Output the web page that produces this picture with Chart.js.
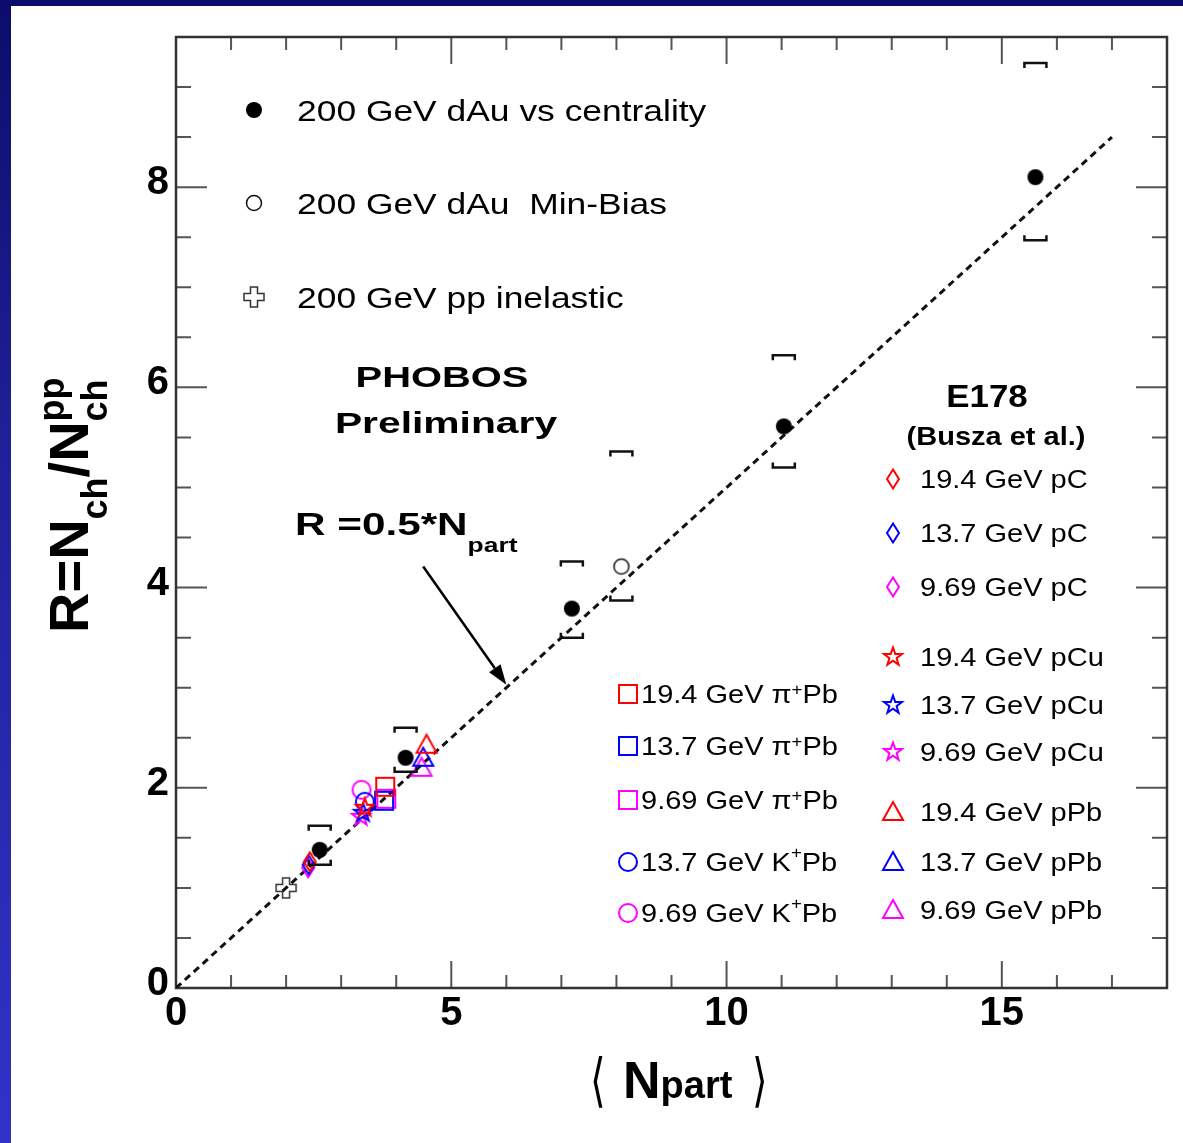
<!DOCTYPE html>
<html>
<head>
<meta charset="utf-8">
<script src="https://cdn.jsdelivr.net/npm/chart.js@4.4.0/dist/chart.umd.min.js"></script>
<style>
  html, body { margin: 0; padding: 0; }
  body {
    width: 1183px; height: 1143px; overflow: hidden; position: relative;
    background: linear-gradient(180deg, #0c0c6c 0%, #20209a 40%, #3232c8 100%);
  }
  #sheet { position: absolute; left: 11px; top: 6px; right: 0; bottom: 0; background: #fff; }
  #chart { position: absolute; left: 0; top: 0; }
</style>
</head>
<body>
<div id="sheet"></div>
<canvas id="chart" width="1183" height="1143"></canvas>
<script>
// -------------------------------
// Data
// -------------------------------
// PHOBOS 200 GeV d+Au vs centrality, with systematic band edges
const dAuNpart = [2.61, 4.17, 7.19, 11.04, 15.61];
const dAuR = [1.38, 2.30, 3.79, 5.61, 8.10];
const dAuSysLow = [1.23, 2.16, 3.50, 5.20, 7.47];
const dAuSysHigh = [1.62, 2.60, 4.26, 6.32, 9.24];

// PHOBOS 200 GeV d+Au min-bias
const mbNpart = [8.09];
const mbR = [4.21];
const mbSysLow = [3.87];
const mbSysHigh = [5.36];

// 200 GeV pp inelastic
const ppNpart = [2.0];
const ppR = [1.0];

// E178 (Busza et al.), one value per beam energy: 19.4, 13.7, 9.69 GeV
const energies = ["19.4", "13.7", "9.69"];
const pCNpart = [2.43, 2.41, 2.40];
const pCR = [1.26, 1.23, 1.20];
const pCuNpart = [3.43, 3.40, 3.36];
const pCuR = [1.80, 1.75, 1.71];
const pPbNpart = [4.55, 4.49, 4.46];
const pPbR = [2.43, 2.30, 2.20];
const piPbNpart = [3.80, 3.78, 3.82];
const piPbR = [2.01, 1.87, 1.89];
// K+Pb only at 13.7 and 9.69 GeV
const kPbEnergies = ["13.7", "9.69"];
const kPbNpart = [3.43, 3.37];
const kPbR = [1.86, 1.98];

// R = 0.5 * Npart reference line
const refLineX = [0, 17];
const refLineY = [0, 8.5];

const xMajorTicks = [0, 5, 10, 15];
const yMajorTicks = [0, 2, 4, 6, 8];

const phobosLabels = [
  "200 GeV dAu vs centrality",
  "200 GeV dAu  Min-Bias",
  "200 GeV pp inelastic",
];

const energyColors = ["#ff0000", "#0000ff", "#ff00ff"];
const FONT = "'Liberation Sans', Arial, sans-serif";

// -------------------------------
// Marker images
// -------------------------------
function marker(shape, color) {
  const c = document.createElement("canvas");
  c.width = 28;
  c.height = 28;
  const g = c.getContext("2d");
  g.translate(14, 14);
  g.strokeStyle = color;
  g.fillStyle = color;
  g.lineWidth = 2;
  g.beginPath();
  if (shape === "dot") {
    g.arc(0, 0, 8, 0, 2 * Math.PI);
    g.fill();
    return c;
  }
  if (shape === "ring") {
    g.lineWidth = 1.5;
    g.arc(0, 0, 7.5, 0, 2 * Math.PI);
  } else if (shape === "circle") {
    g.arc(0, 0, 9, 0, 2 * Math.PI);
  } else if (shape === "square") {
    g.rect(-9, -9, 18, 18);
  } else if (shape === "diamond") {
    g.moveTo(0, -9.5);
    g.lineTo(6, 0);
    g.lineTo(0, 9.5);
    g.lineTo(-6, 0);
    g.closePath();
  } else if (shape === "triangle") {
    g.moveTo(0, -10);
    g.lineTo(10, 8);
    g.lineTo(-10, 8);
    g.closePath();
  } else if (shape === "star") {
    for (let k = 0; k < 10; k++) {
      const r = k % 2 ? 3.8 : 9.5;
      const a = -Math.PI / 2 + (k * Math.PI) / 5;
      if (k === 0) g.moveTo(r * Math.cos(a), r * Math.sin(a));
      else g.lineTo(r * Math.cos(a), r * Math.sin(a));
    }
    g.closePath();
  } else if (shape === "plus") {
    const a = 3.5, b = 10;
    g.lineWidth = 1.5;
    const pts = [[-a,-b],[a,-b],[a,-a],[b,-a],[b,a],[a,a],[a,b],[-a,b],[-a,a],[-b,a],[-b,-a],[-a,-a]];
    pts.forEach((p, i) => (i ? g.lineTo(p[0], p[1]) : g.moveTo(p[0], p[1])));
    g.closePath();
  }
  g.stroke();
  return c;
}

const dotImg = marker("dot", "#000");
const ringImg = marker("ring", "#111");
const plusImg = marker("plus", "#333");
const diamondImgs = energyColors.map((c) => marker("diamond", c));
const starImgs = energyColors.map((c) => marker("star", c));
const triangleImgs = energyColors.map((c) => marker("triangle", c));
const squareImgs = energyColors.map((c) => marker("square", c));
const kCircleImgs = [marker("circle", energyColors[1]), marker("circle", energyColors[2])];

// -------------------------------
// Datasets
// -------------------------------
const datasets = [];
function addPoints(label, xs, ys, img) {
  datasets.push({
    label,
    data: xs.map((x, i) => ({ x, y: ys[i] })),
    pointStyle: img,
    pointRadius: 9,
    pointHoverRadius: 9,
    showLine: false,
  });
}

addPoints(phobosLabels[0], dAuNpart, dAuR, dotImg);
addPoints(phobosLabels[1], mbNpart, mbR, ringImg);
addPoints(phobosLabels[2], ppNpart, ppR, plusImg);
energies.forEach((e, i) => {
  addPoints(`${e} GeV pPb`, [pPbNpart[i]], [pPbR[i]], triangleImgs[i]);
  addPoints(`${e} GeV pi+Pb`, [piPbNpart[i]], [piPbR[i]], squareImgs[i]);
  addPoints(`${e} GeV pCu`, [pCuNpart[i]], [pCuR[i]], starImgs[i]);
  addPoints(`${e} GeV pC`, [pCNpart[i]], [pCR[i]], diamondImgs[i]);
});
kPbEnergies.forEach((e, i) => {
  addPoints(`${e} GeV K+Pb`, [kPbNpart[i]], [kPbR[i]], kCircleImgs[i]);
});
datasets.push({
  type: "line",
  label: "R = 0.5 Npart",
  data: refLineX.map((x, i) => ({ x, y: refLineY[i] })),
  borderColor: "#111",
  borderWidth: 3,
  borderDash: [7, 5],
  pointRadius: 0,
  fill: false,
});

// -------------------------------
// Text helpers
// -------------------------------
// runs: [{ t, font, dy }], drawn on one baseline, stretched by sx (and sy)
function drawRuns(ctx, runs, x, y, sx, align, sy = 1) {
  ctx.save();
  let w = 0;
  runs.forEach((r) => {
    ctx.font = r.font;
    w += ctx.measureText(r.t).width;
  });
  ctx.translate(x, y);
  ctx.scale(sx, sy);
  let cx = align === "center" ? -w / 2 : 0;
  ctx.textBaseline = "alphabetic";
  ctx.textAlign = "left";
  runs.forEach((r) => {
    ctx.font = r.font;
    ctx.fillText(r.t, cx, r.dy || 0);
    cx += ctx.measureText(r.t).width;
  });
  ctx.restore();
}

const reg = (s) => `${s}px ${FONT}`;
const bold = (s) => `bold ${s}px ${FONT}`;

// -------------------------------
// Frame with inward ticks on all sides
// -------------------------------
const framePlugin = {
  id: "frame",
  beforeDatasetsDraw(chart) {
    const { ctx, chartArea: a, scales } = chart;
    ctx.save();
    ctx.strokeStyle = "#555";
    ctx.lineWidth = 2;
    ctx.beginPath();
    scales.x.ticks.forEach((t) => {
      const px = scales.x.getPixelForValue(t.value);
      const len = t.value % 5 === 0 ? 27 : 13;
      ctx.moveTo(px, a.bottom);
      ctx.lineTo(px, a.bottom - len);
      ctx.moveTo(px, a.top);
      ctx.lineTo(px, a.top + len);
    });
    scales.y.ticks.forEach((t) => {
      const py = scales.y.getPixelForValue(t.value);
      const len = t.value % 2 === 0 ? 31 : 15;
      ctx.moveTo(a.left, py);
      ctx.lineTo(a.left + len, py);
      ctx.moveTo(a.right, py);
      ctx.lineTo(a.right - len, py);
    });
    ctx.stroke();
    ctx.strokeStyle = "#333";
    ctx.lineWidth = 2.5;
    ctx.strokeRect(a.left, a.top, a.right - a.left, a.bottom - a.top);
    ctx.restore();
  },
};

// -------------------------------
// Systematic brackets for the d+Au points
// -------------------------------
function drawBrackets(ctx, chart, dsIndex, lows, highs) {
  const meta = chart.getDatasetMeta(dsIndex);
  const y = chart.scales.y;
  const half = 11, leg = 5;
  meta.data.forEach((pt, i) => {
    const top = y.getPixelForValue(highs[i]);
    const bot = y.getPixelForValue(lows[i]);
    ctx.beginPath();
    ctx.moveTo(pt.x - half, top + leg);
    ctx.lineTo(pt.x - half, top);
    ctx.lineTo(pt.x + half, top);
    ctx.lineTo(pt.x + half, top + leg);
    ctx.moveTo(pt.x - half, bot - leg);
    ctx.lineTo(pt.x - half, bot);
    ctx.lineTo(pt.x + half, bot);
    ctx.lineTo(pt.x + half, bot - leg);
    ctx.stroke();
  });
}

const bracketPlugin = {
  id: "brackets",
  afterDatasetsDraw(chart) {
    const ctx = chart.ctx;
    ctx.save();
    ctx.strokeStyle = "#111";
    ctx.lineWidth = 2.5;
    drawBrackets(ctx, chart, 0, dAuSysLow, dAuSysHigh);
    drawBrackets(ctx, chart, 1, mbSysLow, mbSysHigh);
    ctx.restore();
  },
};

// -------------------------------
// Axis titles, labels and legends
// -------------------------------
const textPlugin = {
  id: "texts",
  afterDraw(chart) {
    const { ctx, scales } = chart;
    ctx.save();
    ctx.fillStyle = "#000";

    // y title: R = Nch / Nch^pp, rotated
    ctx.save();
    ctx.translate(88, 633);
    ctx.rotate(-Math.PI / 2);
    let cx = 0;
    ctx.font = bold(56);
    ctx.fillText("R=N", cx, 0);
    cx += ctx.measureText("R=N").width;
    ctx.font = bold(36);
    ctx.fillText("ch", cx, 19);
    cx += ctx.measureText("ch").width;
    ctx.font = bold(56);
    ctx.fillText("/N", cx, 0);
    cx += ctx.measureText("/N").width;
    ctx.font = bold(36);
    ctx.fillText("ch", cx, 19);
    ctx.fillText("pp", cx, -24);
    ctx.restore();

    // x title: < Npart >, thin tall brackets
    const angle = `40px 'DejaVu Sans', sans-serif`;
    drawRuns(ctx, [{ t: "\u27E8", font: angle }], 590, 1100, 1, "left", 1.45);
    drawRuns(ctx, [{ t: "\u27E9", font: angle }], 752, 1100, 1, "left", 1.45);
    drawRuns(ctx, [{ t: "N", font: bold(52) }, { t: "part", font: bold(38) }], 623, 1098, 1, "left");

    // PHOBOS legend
    const phobosImgs = [dotImg, ringImg, plusImg];
    const phobosRows = [110, 203, 297];
    phobosRows.forEach((y, i) => {
      ctx.drawImage(phobosImgs[i], 254 - 14, y - 14);
      drawRuns(ctx, [{ t: phobosLabels[i], font: reg(30) }], 297, y + 11, 1.18, "left");
    });

    drawRuns(ctx, [{ t: "PHOBOS", font: bold(30) }], 442, 387, 1.33, "center");
    drawRuns(ctx, [{ t: "Preliminary", font: bold(30) }], 446, 433, 1.36, "center");

    drawRuns(
      ctx,
      [{ t: "R =0.5*N", font: bold(32) }, { t: "part", font: bold(20), dy: 17 }],
      295, 535, 1.32, "left"
    );

    // arrow pointing at the reference line
    const x0 = scales.x.getPixelForValue(4.49), y0 = scales.y.getPixelForValue(4.21);
    const x1 = scales.x.getPixelForValue(6.0), y1 = scales.y.getPixelForValue(3.03);
    const ang = Math.atan2(y1 - y0, x1 - x0);
    const hl = 20, hw = 7;
    const bx = x1 - hl * Math.cos(ang), by = y1 - hl * Math.sin(ang);
    ctx.strokeStyle = "#000";
    ctx.lineWidth = 2.5;
    ctx.beginPath();
    ctx.moveTo(x0, y0);
    ctx.lineTo(bx, by);
    ctx.stroke();
    ctx.beginPath();
    ctx.moveTo(x1, y1);
    ctx.lineTo(bx + hw * Math.sin(ang), by - hw * Math.cos(ang));
    ctx.lineTo(bx - hw * Math.sin(ang), by + hw * Math.cos(ang));
    ctx.closePath();
    ctx.fill();

    // E178 block
    drawRuns(ctx, [{ t: "E178", font: bold(32) }], 987, 407, 1.09, "center");
    drawRuns(ctx, [{ t: "(Busza et al.)", font: bold(25) }], 996, 445, 1.16, "center");

    const rightRows = [
      [479, 533, 587, diamondImgs, "pC"],
      [657, 705, 752, starImgs, "pCu"],
      [812, 862, 910, triangleImgs, "pPb"],
    ];
    rightRows.forEach((row) => {
      energies.forEach((e, i) => {
        const y = row[i];
        ctx.drawImage(row[3][i], 893 - 14, y - 14);
        drawRuns(ctx, [{ t: `${e} GeV ${row[4]}`, font: reg(25) }], 920, y + 9, 1.16, "left");
      });
    });

    // pi+ / K+ on Pb block
    const piRows = [694, 746, 800];
    energies.forEach((e, i) => {
      const y = piRows[i];
      ctx.drawImage(squareImgs[i], 628 - 14, y - 14);
      drawRuns(
        ctx,
        [
          { t: `${e} GeV \u03C0`, font: reg(25) },
          { t: "+", font: reg(16), dy: -8 },
          { t: "Pb", font: reg(25) },
        ],
        641, y + 9, 1.16, "left"
      );
    });
    const kRows = [862, 913];
    kPbEnergies.forEach((e, i) => {
      const y = kRows[i];
      ctx.drawImage(kCircleImgs[i], 628 - 14, y - 14);
      drawRuns(
        ctx,
        [
          { t: `${e} GeV K`, font: reg(25) },
          { t: "+", font: reg(16), dy: -13 },
          { t: "Pb", font: reg(25) },
        ],
        641, y + 9, 1.16, "left"
      );
    });

    ctx.restore();
  },
};

// -------------------------------
// Chart
// -------------------------------
const tickFont = { family: FONT, weight: "bold", size: 40 };

new Chart(document.getElementById("chart"), {
  type: "scatter",
  data: { datasets },
  options: {
    responsive: false,
    animation: false,
    devicePixelRatio: 1,
    layout: { padding: { left: 106, top: 37, right: 16, bottom: 95 } },
    plugins: { legend: { display: false }, tooltip: { enabled: false } },
    scales: {
      x: {
        type: "linear",
        min: 0,
        max: 18,
        grid: { display: false, drawTicks: false },
        border: { display: false },
        ticks: {
          stepSize: 1,
          autoSkip: false,
          maxRotation: 0,
          padding: 2,
          color: "#000",
          font: tickFont,
          callback: (v) => (xMajorTicks.includes(v) ? String(v) : ""),
        },
        afterFit: (s) => {
          s.height = 60;
        },
      },
      y: {
        type: "linear",
        min: 0,
        max: 9.5,
        grid: { display: false, drawTicks: false },
        border: { display: false },
        ticks: {
          stepSize: 0.5,
          autoSkip: false,
          padding: 7,
          labelOffset: -4,
          color: "#000",
          font: tickFont,
          callback: (v) => (yMajorTicks.includes(v) ? String(v) : ""),
        },
        afterFit: (s) => {
          s.width = 70;
        },
      },
    },
  },
  plugins: [framePlugin, bracketPlugin, textPlugin],
});
</script>
</body>
</html>
